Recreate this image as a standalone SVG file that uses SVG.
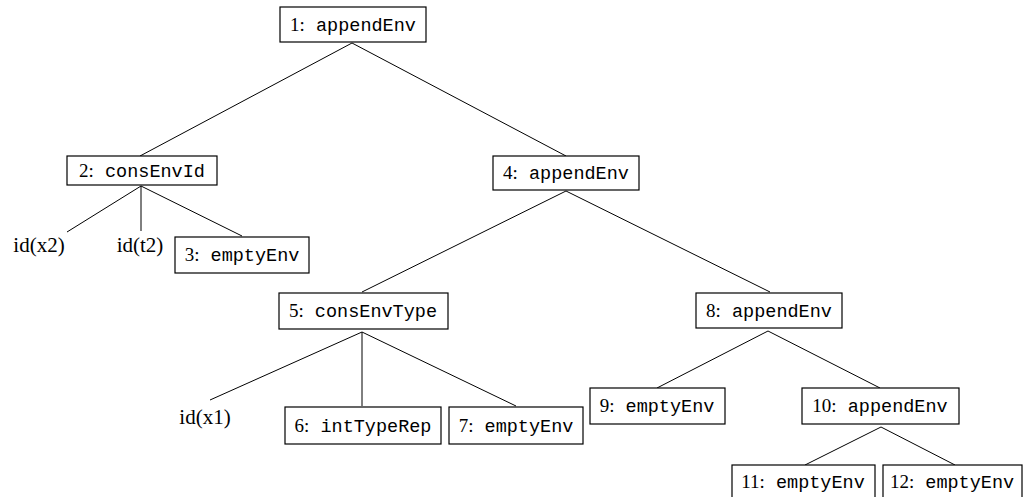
<svg xmlns="http://www.w3.org/2000/svg" width="1024" height="497" viewBox="0 0 1024 497">
<style>
  .box { fill: #ffffff; stroke: #000000; stroke-width: 1.2; }
  .edge { stroke: #000000; stroke-width: 1; fill: none; }
  .lbl { font-family: "Liberation Mono", monospace; font-size: 18.5px; fill: #000; text-anchor: middle; }
  .num { font-family: "Liberation Serif", serif; font-size: 19px; }
  .leaf { font-family: "Liberation Serif", serif; font-size: 21px; fill: #000; text-anchor: middle; }
</style>
<rect width="1024" height="497" fill="#ffffff"/>
<g id="connectors">
  <line class="edge" x1="352" y1="43" x2="140" y2="156"/>
  <line class="edge" x1="352" y1="43" x2="566" y2="156"/>
  <line class="edge" x1="141" y1="186" x2="67" y2="232"/>
  <line class="edge" x1="141" y1="186" x2="141" y2="231"/>
  <line class="edge" x1="141" y1="186" x2="242" y2="236"/>
  <line class="edge" x1="566" y1="191" x2="362" y2="292"/>
  <line class="edge" x1="566" y1="191" x2="770" y2="292"/>
  <line class="edge" x1="362" y1="332" x2="210" y2="400"/>
  <line class="edge" x1="362" y1="332" x2="362" y2="406"/>
  <line class="edge" x1="362" y1="332" x2="516" y2="406"/>
  <line class="edge" x1="768" y1="331" x2="657" y2="388"/>
  <line class="edge" x1="768" y1="331" x2="880" y2="388"/>
  <line class="edge" x1="881" y1="427" x2="805" y2="465"/>
  <line class="edge" x1="881" y1="427" x2="955" y2="465"/>
</g>
<g id="n1"><rect class="box" x="280" y="7" width="146" height="35"/><text class="lbl" x="353" y="31"><tspan class="num">1:</tspan> appendEnv</text></g>
<g id="n2"><rect class="box" x="67" y="156" width="150" height="29"/><text class="lbl" x="142" y="177"><tspan class="num">2:</tspan> consEnvId</text></g>
<g id="l_x2"><text class="leaf" x="39" y="252">id(x2)</text></g>
<g id="l_t2"><text class="leaf" x="140" y="252">id(t2)</text></g>
<g id="n3"><rect class="box" x="175" y="237" width="134" height="36"/><text class="lbl" x="242" y="261"><tspan class="num">3:</tspan> emptyEnv</text></g>
<g id="n4"><rect class="box" x="493" y="156" width="146" height="34"/><text class="lbl" x="566" y="179"><tspan class="num">4:</tspan> appendEnv</text></g>
<g id="n5"><rect class="box" x="279" y="293" width="169" height="36"/><text class="lbl" x="363" y="317"><tspan class="num">5:</tspan> consEnvType</text></g>
<g id="l_x1"><text class="leaf" x="205" y="424">id(x1)</text></g>
<g id="n6"><rect class="box" x="285" y="407" width="156" height="37"/><text class="lbl" x="363" y="432"><tspan class="num">6:</tspan> intTypeRep</text></g>
<g id="n7"><rect class="box" x="449" y="407" width="134" height="37"/><text class="lbl" x="516" y="432"><tspan class="num">7:</tspan> emptyEnv</text></g>
<g id="n8"><rect class="box" x="696" y="293" width="146" height="35"/><text class="lbl" x="769" y="317"><tspan class="num">8:</tspan> appendEnv</text></g>
<g id="n9"><rect class="box" x="590" y="388" width="135" height="36"/><text class="lbl" x="657" y="412"><tspan class="num">9:</tspan> emptyEnv</text></g>
<g id="n10"><rect class="box" x="802" y="388" width="157" height="36"/><text class="lbl" x="880" y="412"><tspan class="num">10:</tspan> appendEnv</text></g>
<g id="n11"><rect class="box" x="732" y="465" width="143" height="36"/><text class="lbl" x="803" y="488"><tspan class="num">11:</tspan> emptyEnv</text></g>
<g id="n12"><rect class="box" x="883" y="465" width="139" height="36"/><text class="lbl" x="952" y="488"><tspan class="num">12:</tspan> emptyEnv</text></g>
</svg>
